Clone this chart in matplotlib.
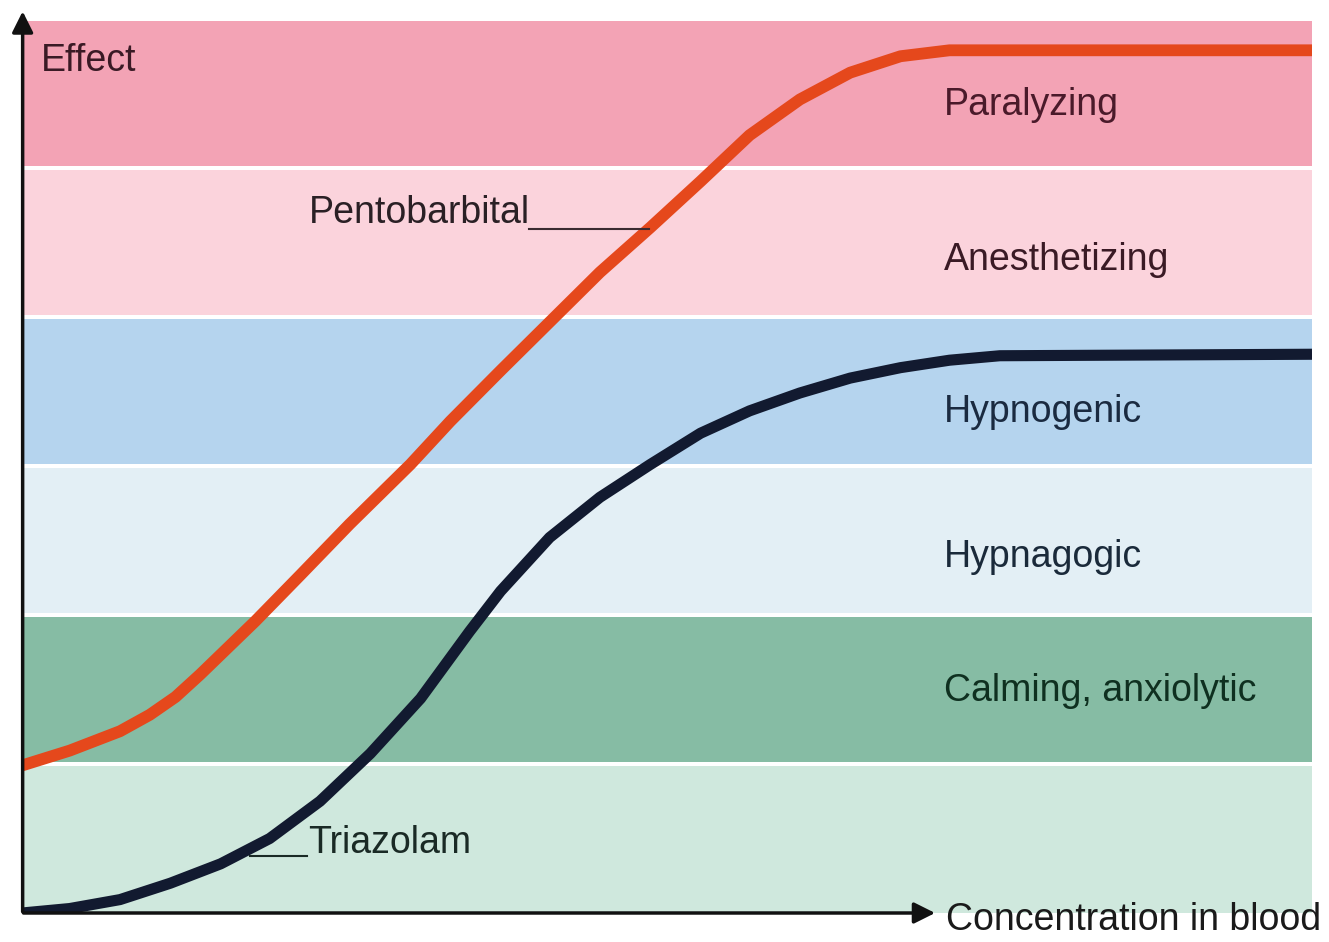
import matplotlib
matplotlib.use("Agg")
import matplotlib.pyplot as plt

# effect zones, bottom to top (one unit of effect per zone)
zones = ["", "Calming, anxiolytic", "Hypnagogic", "Hypnogenic", "Anesthetizing", "Paralyzing"]
zone_colors = ["#cfe8dd", "#86bca4", "#e3eff5", "#b5d4ee", "#fbd3dc", "#f3a3b5"]
zone_text = ["#1a3a2a", "#0f3020", "#1a2a3a", "#1a2a40", "#3a1a25", "#4a1a2a"]
zone_label_y = [0, 1.49, 2.39, 3.36, 4.38, 5.42]

# concentration (0-100) vs effect
pento_x = [0, 3.7, 7.6, 9.9, 11.9, 13.8, 18.1, 21.6, 25.4, 30.1, 33.2, 37.1, 41.3, 44.8, 48.7, 52.6,
           56.4, 60.3, 64.2, 68.1, 71.9, 75.8, 100]
pento_y = [0.99, 1.09, 1.22, 1.33, 1.45, 1.60, 1.96, 2.27, 2.61, 3.01, 3.30, 3.64, 4.00, 4.30, 4.60, 4.91,
           5.22, 5.46, 5.64, 5.75, 5.79, 5.79, 5.79]

triaz_x = [0, 3.7, 7.6, 11.5, 15.4, 19.2, 23.1, 27.0, 30.9, 34.7, 37.1, 40.9, 44.8, 48.7, 52.6, 56.4,
           60.3, 64.2, 68.1, 71.9, 75.8, 100]
triaz_y = [0.0, 0.03, 0.09, 0.20, 0.33, 0.50, 0.75, 1.07, 1.44, 1.89, 2.16, 2.52, 2.79, 3.01, 3.22, 3.37,
           3.49, 3.59, 3.66, 3.71, 3.74, 3.75]

plt.rcParams['font.family'] = ['Liberation Sans Narrow', 'Liberation Sans', 'DejaVu Sans']

fig = plt.figure(figsize=(13.29, 9.42), dpi=100)
ax = fig.add_axes([22 / 1329, 29 / 942, 1290 / 1329, 894 / 942])
ax.set_xlim(0, 100)
ax.set_ylim(0, 6)
ax.axis('off')

# colored bands
for i, (name, c) in enumerate(zip(zones, zone_colors)):
    lo = 0 if i == 0 else i + 0.015
    ax.axhspan(lo, i + 0.985, color=c, lw=0, zorder=0)
    if name:
        ax.text(71.5, zone_label_y[i], name, fontsize=27, color=zone_text[i], va='center', ha='left', zorder=5)

# curves
ax.plot(pento_x, pento_y, color='#e5481c', lw=8.5, solid_capstyle='butt', solid_joinstyle='round', zorder=3)
ax.plot(triaz_x, triaz_y, color='#121a30', lw=8, solid_capstyle='butt', solid_joinstyle='round', zorder=3)

# curve labels with leader lines
ax.text(22.2, 4.7, "Pentobarbital", fontsize=27, color='#2a2025', va='center', ha='left', zorder=5)
ax.plot([39.3, 48.6], [4.59, 4.59], color='#3a2a30', lw=1.5, zorder=4)
ax.text(22.2, 0.47, "Triazolam", fontsize=27, color='#1a2a25', va='center', ha='left', zorder=5)
ax.plot([17.7, 22.1], [0.38, 0.38], color='#1a2a25', lw=1.5, zorder=4)

# axes with arrow heads
ax.annotate("", xy=(0.05, 6.07), xytext=(0.05, -0.01),
            arrowprops=dict(arrowstyle='-|>', color='#111111', lw=2.5, mutation_scale=32),
            annotation_clip=False, zorder=6)
ax.annotate("", xy=(71.0, 0), xytext=(-0.1, 0),
            arrowprops=dict(arrowstyle='-|>', color='#111111', lw=2.5, mutation_scale=32),
            annotation_clip=False, zorder=6)

ax.text(1.5, 5.72, "Effect", fontsize=27, color='#3a1a25', va='center', ha='left', zorder=5)
ax.text(71.6, -0.05, "Concentration in blood", fontsize=27, color='#1a1a1a', va='center', ha='left',
        zorder=5, clip_on=False)

fig.savefig("out.png", dpi=100)
